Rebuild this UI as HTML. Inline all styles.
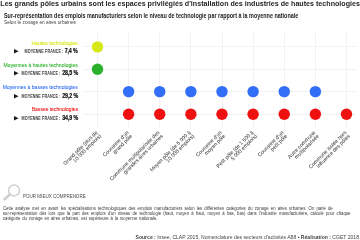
<!DOCTYPE html>
<html><head><meta charset="utf-8">
<style>
html,body{margin:0;padding:0;background:#fff;}
body{width:360px;height:240px;position:relative;overflow:hidden;font-family:"Liberation Sans",sans-serif;}
.t{position:absolute;white-space:nowrap;line-height:1;transform-origin:0 0;}
.tr{position:absolute;white-space:nowrap;line-height:1;transform-origin:100% 0;text-align:right;}
.gl{position:absolute;background:#f2f2f2;}
.dot{position:absolute;border-radius:50%;}
.lab{position:absolute;white-space:nowrap;font-size:5.25px;line-height:5.0px;color:#444;-webkit-text-stroke:0.05px #444;text-align:right;transform-origin:100% 0;transform:rotate(-45deg);}
</style></head><body><div style="position:absolute;left:0;top:0;width:360px;height:240px;will-change:transform">

<div class="t" style="left:0.3px;top:1px;font-size:7.13px;font-weight:bold;color:#262626;">Les grands pôles urbains sont les espaces privilégiés d'installation des industries de hautes technologies</div>
<div class="t" style="left:3.5px;top:12.5px;font-size:6.4px;font-weight:bold;color:#222;transform:scaleX(0.85)">Sur-représentation des emplois manufacturiers selon le niveau de technologie par rapport à la moyenne nationale</div>
<div class="t" style="left:3.5px;top:20.2px;font-size:5.6px;color:#444;transform:scaleX(0.85)">Selon le zonage en aires urbaines</div>
<div class="gl" style="left:97px;top:32px;width:1px;height:96px"></div>
<div class="gl" style="left:128px;top:32px;width:1px;height:96px"></div>
<div class="gl" style="left:159px;top:32px;width:1px;height:96px"></div>
<div class="gl" style="left:190px;top:32px;width:1px;height:96px"></div>
<div class="gl" style="left:222px;top:32px;width:1px;height:96px"></div>
<div class="gl" style="left:253px;top:32px;width:1px;height:96px"></div>
<div class="gl" style="left:284px;top:32px;width:1px;height:96px"></div>
<div class="gl" style="left:315px;top:32px;width:1px;height:96px"></div>
<div class="gl" style="left:346px;top:32px;width:1px;height:96px"></div>
<div class="gl" style="left:84px;top:46px;width:272px;height:1px"></div>
<div class="gl" style="left:84px;top:69px;width:272px;height:1px"></div>
<div class="gl" style="left:84px;top:91px;width:272px;height:1px"></div>
<div class="gl" style="left:84px;top:114px;width:272px;height:1px"></div>
<svg style="position:absolute;left:0;top:0" width="360" height="240"><circle cx="97.50" cy="46.90" r="5.70" fill="#d6e816"/><circle cx="97.50" cy="69.30" r="5.70" fill="#2ab02b"/><circle cx="128.62" cy="91.60" r="5.70" fill="#326ef6"/><circle cx="159.75" cy="91.60" r="5.70" fill="#326ef6"/><circle cx="190.88" cy="91.60" r="5.70" fill="#326ef6"/><circle cx="222.00" cy="91.60" r="5.70" fill="#326ef6"/><circle cx="253.12" cy="91.60" r="5.70" fill="#326ef6"/><circle cx="284.25" cy="91.60" r="5.70" fill="#326ef6"/><circle cx="315.38" cy="91.60" r="5.70" fill="#326ef6"/><circle cx="128.62" cy="114.30" r="5.70" fill="#ee110f"/><circle cx="159.75" cy="114.30" r="5.70" fill="#ee110f"/><circle cx="190.88" cy="114.30" r="5.70" fill="#ee110f"/><circle cx="222.00" cy="114.30" r="5.70" fill="#ee110f"/><circle cx="253.12" cy="114.30" r="5.70" fill="#ee110f"/><circle cx="284.25" cy="114.30" r="5.70" fill="#ee110f"/><circle cx="315.38" cy="114.30" r="5.70" fill="#ee110f"/><circle cx="346.50" cy="114.30" r="5.70" fill="#ee110f"/></svg>
<div class="tr" style="right:282px;top:40.50px;font-size:5.8px;color:#d6e816;-webkit-text-stroke:0.08px #d6e816;transform:scaleX(0.875)">Hautes technologies</div>
<div class="tr" style="right:282px;top:48.20px;font-size:6.4px;font-weight:bold;color:#111;-webkit-text-stroke:0.22px #111;letter-spacing:-0.15px;transform:scaleX(0.83)">7,4 %</div>
<div class="tr" style="right:296.65px;top:50.30px;font-size:4.8px;font-weight:bold;color:#3a3a3a;letter-spacing:0.12px;transform:scaleX(0.77)">MOYENNE FRANCE :</div>
<svg style="position:absolute;left:13.9px;top:49.20px" width="6" height="6"><path d="M0 0 L4.6 2.3 L0 4.6 Z" fill="#1a1a1a"/></svg>
<div class="tr" style="right:282px;top:62.67px;font-size:5.8px;color:#2ab02b;-webkit-text-stroke:0.08px #2ab02b;transform:scaleX(0.875)">Moyennes à hautes technologies</div>
<div class="tr" style="right:282px;top:70.37px;font-size:6.4px;font-weight:bold;color:#111;-webkit-text-stroke:0.22px #111;letter-spacing:-0.15px;transform:scaleX(0.83)">28,5 %</div>
<div class="tr" style="right:299.49px;top:72.47px;font-size:4.8px;font-weight:bold;color:#3a3a3a;letter-spacing:0.12px;transform:scaleX(0.77)">MOYENNE FRANCE :</div>
<svg style="position:absolute;left:13.9px;top:71.37px" width="6" height="6"><path d="M0 0 L4.6 2.3 L0 4.6 Z" fill="#1a1a1a"/></svg>
<div class="tr" style="right:282px;top:84.84px;font-size:5.8px;color:#326ef6;-webkit-text-stroke:0.08px #326ef6;transform:scaleX(0.875)">Moyennes à basses technologies</div>
<div class="tr" style="right:282px;top:92.54px;font-size:6.4px;font-weight:bold;color:#111;-webkit-text-stroke:0.22px #111;letter-spacing:-0.15px;transform:scaleX(0.83)">29,2 %</div>
<div class="tr" style="right:299.49px;top:94.64px;font-size:4.8px;font-weight:bold;color:#3a3a3a;letter-spacing:0.12px;transform:scaleX(0.77)">MOYENNE FRANCE :</div>
<svg style="position:absolute;left:13.9px;top:93.54px" width="6" height="6"><path d="M0 0 L4.6 2.3 L0 4.6 Z" fill="#1a1a1a"/></svg>
<div class="tr" style="right:282px;top:107.01px;font-size:5.8px;color:#ee110f;-webkit-text-stroke:0.08px #ee110f;transform:scaleX(0.875)">Basses technologies</div>
<div class="tr" style="right:282px;top:114.71px;font-size:6.4px;font-weight:bold;color:#111;-webkit-text-stroke:0.22px #111;letter-spacing:-0.15px;transform:scaleX(0.83)">34,9 %</div>
<div class="tr" style="right:299.49px;top:116.81px;font-size:4.8px;font-weight:bold;color:#3a3a3a;letter-spacing:0.12px;transform:scaleX(0.77)">MOYENNE FRANCE :</div>
<svg style="position:absolute;left:13.9px;top:115.71px" width="6" height="6"><path d="M0 0 L4.6 2.3 L0 4.6 Z" fill="#1a1a1a"/></svg>
<div class="lab" style="right:265.20px;top:130.1px">Grand pôle (plus de<br>10 000 emplois)</div>
<div class="lab" style="right:234.07px;top:130.1px">Couronne d'un<br>grand pôle</div>
<div class="lab" style="right:202.95px;top:130.1px">Commune multipolarisée des<br>grandes aires urbaines</div>
<div class="lab" style="right:171.82px;top:130.1px">Moyen pôle (de 5 000 à<br>10 000 emplois)</div>
<div class="lab" style="right:140.70px;top:130.1px">Couronne d'un<br>moyen pôle</div>
<div class="lab" style="right:109.58px;top:130.1px">Petit pôle (de 1 500 à<br>5 000 emplois)</div>
<div class="lab" style="right:78.45px;top:130.1px">Couronne d'un<br>petit pôle</div>
<div class="lab" style="right:47.33px;top:130.1px">Autre commune<br>multipolarisée</div>
<div class="lab" style="right:16.20px;top:130.1px">Commune isolée hors<br>influence des pôles</div>
<svg style="position:absolute;left:0;top:180px" width="24" height="24"><circle cx="14.05" cy="10.4" r="5.5" fill="none" stroke="#cfcfcf" stroke-width="1.5"/><path d="M9.6 14.8 L4.6 19.3" stroke="#cdcdcd" stroke-width="2.6" stroke-linecap="round"/></svg>
<div class="t" style="left:22.5px;top:194.4px;font-size:5.6px;color:#4a4a4a;transform:scaleX(0.81)">POUR MIEUX COMPRENDRE</div>
<div class="t" style="left:3px;top:205.60px;font-size:5.8px;color:#383838;word-spacing:1.36px;transform:scaleX(0.73)">Cette analyse met en avant les spécialisations technologiques des emplois manufacturiers selon les différentes catégories du zonage en aires urbaines. On parle de</div>
<div class="t" style="left:3px;top:211.00px;font-size:5.8px;color:#383838;word-spacing:1.42px;transform:scaleX(0.73)">sur-représentation dès lors que la part des emplois d'un niveau de technologie (haut, moyen à haut, moyen à bas, bas) dans l'industrie manufacturière, calculé pour chaque</div>
<div class="t" style="left:3px;top:216.40px;font-size:5.8px;color:#383838;word-spacing:0.89px;transform:scaleX(0.73)">catégorie du zonage en aires urbaines, est supérieure à la moyenne nationale.</div>
<div class="tr" style="right:1px;top:235.2px;font-size:5.07px;color:#444;"><b>Source :</b> Insee, CLAP 2015, Nomenclature des secteurs d'activités A88 • <b>Réalisation :</b> CGET 2018</div>
</div></body></html>
